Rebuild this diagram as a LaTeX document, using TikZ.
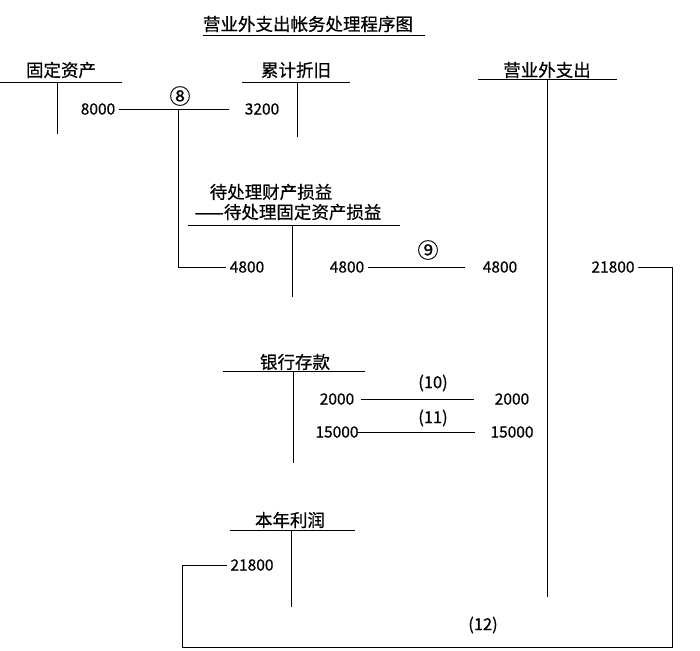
\documentclass[tikz,border=0pt]{standalone}
\usepackage{fontspec}
\setmainfont{Noto Sans CJK SC}[FakeBold=0.6]
\usetikzlibrary{positioning}
\tikzset{acct/.style={font=\fontsize{17.5}{19}\selectfont,inner sep=1pt},
         num/.style={font=\fontsize{15.5}{17}\selectfont},
         lbl/.style={font=\fontsize{16.5}{18}\selectfont,inner sep=1pt},
         circ/.style={font=\fontsize{21}{22}\selectfont,inner sep=0pt},
         tline/.style={line width=0.8pt}}

\begin{document}
\begin{tikzpicture}[x=1pt,y=-1pt,tline]
        \useasboundingbox(0,0)rectangle(700,650);
        \node[acct](title)at(308,24){营业外支出帐务处理程序图};
        \draw(203,35)--(425,35);

        \node[acct](gdzc)at(61,70){固定资产};
        \draw(0,82)--(122,82) (57,82)--(57,134);
        \node[acct](ljzj)at(296,70){累计折旧};
        \draw(242,82)--(350,82) (297,82)--(297,137);
        \node[acct](yywzc)at(547,70){营业外支出};
        \draw(478,79)--(617,79) (547,79)--(547,597);
        \node[acct](dcl1)at(271,192){待处理财产损益};
        \node[acct](dcl2)at(288,212){——待处理固定资产损益};
        \draw(188,225)--(400,225) (292,225)--(292,297);
        \node[acct](yhck)at(295,362){银行存款};
        \draw(223,371)--(365,371) (293,371)--(293,463);
        \node[acct](bnlr)at(290,520){本年利润};
        \draw(230,530)--(355,530) (291,530)--(291,607);

        \node[num](a1)at(98,109){8000};
        \node[num](a2)at(262,109){3200};
        \node[circ](s8)at(180,96){⑧};
        \coordinate(j8)at(178,109);
        \node[num](b1)at(247,267){4800};
        \node[num](b2)at(347,267){4800};
        \node[num](b3)at(500,267){4800};
        \node[circ](s9)at(428,250){⑨};
        \node[num](c1)at(337,399){2000};
        \node[num](c2)at(512,399){2000};
        \node[lbl](s10)at(433,383){(10)};
        \node[num](d1)at(337,432){15000};
        \node[num](d2)at(512,432){15000};
        \node[lbl](s11)at(433,418){(11)};
        \node[num](e1)at(613,267){21800};
        \node[num](e2)at(252,565){21800};
        \node[lbl](s12)at(483,625){(12)};
        \coordinate(k1)at(672,647);
        \coordinate(k2)at(182,647);

        \draw[shorten >=12pt](a1.east)--(a2.west);
        \draw(j8)|-(b1.west);
        \draw[shorten >=14pt](b2.east)--(b3.west);
        \draw[shorten <=3pt,shorten >=17pt](c1.east)--(c2.west);
        \draw[shorten <=-5pt,shorten >=12pt](d1.east)--(d2.west);
        \draw(e1.east)-|(k1)--(k2)|-(e2.west);
    \end{tikzpicture}
\end{document}
